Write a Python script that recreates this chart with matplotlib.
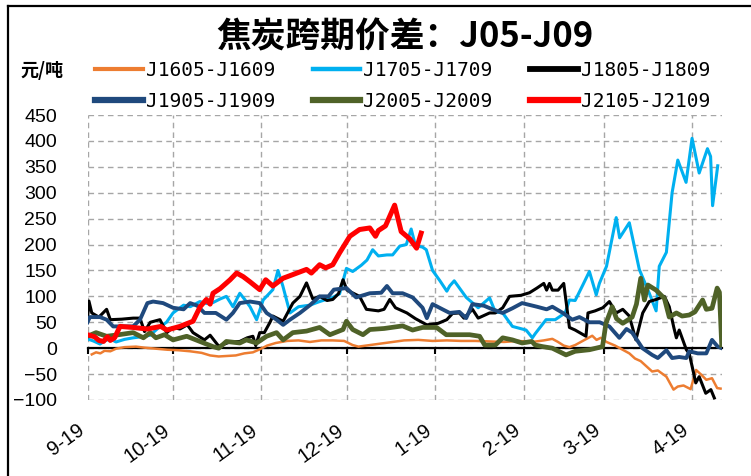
import matplotlib
matplotlib.use("Agg")
import matplotlib.pyplot as plt
from matplotlib.lines import Line2D
import pandas as pd

# season start; x values are days counted from 9-19
BASE_DATE = "2018-09-19"
TICK_DATES = ["2018-09-19", "2018-10-19", "2018-11-19", "2018-12-19",
              "2019-01-19", "2019-02-19", "2019-03-19", "2019-04-19"]
TICK_LABELS = ["9-19", "10-19", "11-19", "12-19", "1-19", "2-19", "3-19", "4-19"]
Y_TICKS = list(range(-100, 451, 50))

DAYS_1605 = [1.5, 3, 4.5, 6, 8, 10, 13, 17, 20, 24, 28, 32, 36, 40, 43, 46, 49, 52, 55, 58,
             60.5, 63, 66, 70, 74, 78, 82, 86, 90, 93, 95, 99, 103, 107, 111, 116, 121, 126,
             131, 136, 141, 146, 151, 156, 160, 163, 165, 167, 169, 171, 173, 175, 177, 178.5,
             180, 182, 185, 188, 190, 192, 194, 196, 198, 200, 203, 205.5, 207, 209, 211.5,
             213.4, 215, 217, 219, 220.8, 222]
VALS_1605 = [-12, -8, -10, -5, -6, -1, 2, 3, 1, -1, -3, -4, -6, -9, -14, -16, -15, -14, -10, -8,
             -2, 5, 10, 14, 15, 12, 15, 15, 14, 6, 3, 6, 9, 12, 15, 16, 14, 15,
             14, 14, 13, 12, 14, 12, 15, 18, 12, 5, 2, 6, 12, 18, 24, 16,
             20, 12, 5, -4, -10, -20, -25, -35, -45, -43, -55, -80, -74, -72, -79,
             -42, -50, -61, -58, -77, -78]

DAYS_1705 = [0, 2, 4.4, 6, 7.9, 10, 13, 16, 19, 22, 25, 27.7, 30, 33.7, 36, 39.4, 42, 44, 46.5,
             48.7, 51, 53.4, 55, 57, 59.3, 61.6, 65, 66.8, 68.5, 71, 74, 78, 81.4, 86, 88.4,
             90.8, 93, 96, 98, 100, 102, 105, 107, 109.5, 111.8, 113.5, 115, 117.5, 118.8, 121,
             123.6, 126, 127, 128.6, 132.8, 137, 141, 143, 145.6, 149, 153.8, 156, 157, 160.8,
             164, 167.5, 169, 171, 173.7, 176, 178.4, 179.5, 182, 185.4, 186.6, 190, 193.5,
             197, 199.4, 200.5, 203, 205, 207, 209.9, 212, 214.5, 217.4, 218.5, 219.2, 221]
VALS_1705 = [18, 14, 8, 14, 18, 12, 17, 20, 22, 25, 40, 50, 68, 83, 80, 90, 86, 88, 95,
             100, 80, 106, 95, 80, 55, 93, 113, 150, 120, 68, 80, 83, 90, 98, 105,
             154, 148, 160, 170, 190, 178, 180, 180, 197, 200, 230, 198, 195, 190, 150,
             130, 110, 120, 130, 98, 78, 97, 70, 68, 42, 35, 20, 28, 55,
             55, 68, 93, 92, 122, 148, 103, 125, 158, 252, 213, 242, 152,
             106, 72, 158, 185, 300, 363, 320, 405, 338, 385, 370, 275, 352]

DAYS_1805 = [0, 0.5, 1.5, 4, 6.7, 8, 12, 16, 18.4, 20, 22, 25.4, 27.8, 30, 32.4, 35, 37, 41, 43,
             46, 50, 53.4, 56, 58, 59, 60.4, 62, 64, 65, 68.6, 72, 74.5, 76.8, 79, 81.4, 84, 86,
             88, 89.6, 91, 95.4, 97.8, 102, 104, 106, 108, 112, 115, 119, 123, 126, 128, 130.4,
             132, 135, 137, 141, 143, 145.6, 148, 152, 155, 157.6, 160, 161, 162, 163, 165, 167,
             169, 171, 174.8, 175.5, 178, 180.7, 183, 185.4, 187.7, 190, 192.3, 194.7, 197,
             199.4, 202.3, 204, 205.6, 206.5, 207.5, 210, 211, 212.3, 213.3, 214.5, 216.8,
             218.6, 219.8]
VALS_1805 = [55, 91, 68, 60, 75, 55, 56, 58, 58, 32, 50, 55, 30, 40, 37, 45, 30, 16, 25,
             4, 12, 13, 20, 23, 5, 30, 30, 50, 62, 52, 87, 100, 126, 95, 100, 92, 94,
             105, 132, 112, 100, 75, 72, 75, 94, 78, 68, 57, 45, 48, 55, 67, 68,
             58, 75, 58, 68, 68, 78, 100, 102, 107, 116, 125, 112, 125, 112, 112, 125,
             40, 35, 23, 68, 72, 78, 90, 68, 75, 62, 16, 68, 90,
             94, 100, 80, 40, 20, 35, -3, -10, -42, -67, -55, -87,
             -80, -96]

DAYS_1905 = [0, 0.8, 4.4, 6.7, 9, 16, 18.4, 21, 23, 26.5, 30, 33.7, 36, 38.5, 41, 45, 48.7, 51,
             53.4, 57, 60.4, 62.8, 66.3, 68.6, 71, 74.5, 78, 81.4, 84.5, 86.4, 90.8, 94.2, 99,
             103, 105, 107, 110.5, 114, 117.5, 119, 121, 124.5, 127, 130.4, 132.8, 135, 139, 142,
             145.6, 149, 152.4, 157.6, 161, 163, 166.7, 170, 172.5, 176, 179.6, 183, 186.5, 189,
             191, 194.6, 198, 200, 203, 205, 207.5, 210, 211, 214, 217, 219, 221, 222.4]
VALS_1905 = [50, 60, 60, 55, 42, 42, 55, 87, 90, 87, 78, 75, 87, 82, 68, 68, 55, 68,
             87, 90, 87, 68, 55, 45, 55, 68, 83, 100, 100, 113, 116, 98, 106,
             107, 120, 106, 106, 98, 78, 58, 85, 75, 68, 70, 58, 85, 82, 75,
             68, 77, 87, 80, 75, 80, 68, 55, 60, 50, 50, 42, 20, 37,
             30, 0, -13, -19, -4, -19, -17, -19, -6, -10, -10, 16, 3, 0]

DAYS_2005 = [0, 3, 6.7, 11, 16, 19.6, 22, 24, 27, 30, 34.8, 39.4, 44, 46, 48.7, 53.4, 55.7, 59.3,
             62.8, 66.3, 68.6, 72, 76.8, 81.4, 85, 89.6, 90.8, 93, 96.6, 99, 104, 110.5, 114,
             117.5, 122.4, 125.8, 134, 137.5, 139.3, 143, 145.6, 149, 152.4, 155.8, 157, 159.6,
             163, 167.8, 171, 176, 180.6, 181.8, 184, 185.5, 187.7, 191, 192.5, 194, 195.3,
             196.5, 199.4, 202.3, 204, 206.5, 208.5, 211, 213, 215.7, 217, 219, 220.8, 221.6,
             222.4]
VALS_2005 = [23, 30, 23, 26, 30, 20, 30, 20, 26, 16, 23, 13, 3, 0, 13, 10, 16, 10,
             23, 30, 16, 30, 33, 40, 26, 36, 52, 36, 26, 36, 38, 43, 35,
             40, 40, 26, 26, 23, 6, 6, 20, 16, 10, 13, 6, 3,
             0, -13, -6, -3, 3, 48, 80, 57, 48, 60, 85, 135, 93,
             122, 112, 96, 60, 68, 62, 64, 70, 93, 75, 77, 116, 108,
             6]

DAYS_2105 = [0, 2.5, 4, 5.6, 7, 8, 9.5, 11.4, 16, 21, 25.7, 27.8, 32.4, 37, 39.5, 41.7, 43, 44,
             46.5, 50, 52.3, 54.6, 57, 60.4, 62.5, 65, 68.6, 72, 76.8, 78.5, 81.4, 83.5, 86,
             88.4, 92, 95.4, 99, 101, 102, 104.5, 107.7, 110, 113, 115.4, 117]
VALS_2105 = [26, 22, 15, 13, 22, 15, 20, 42, 40, 37, 42, 35, 42, 52, 80, 94, 85, 106,
             115, 132, 145, 138, 128, 113, 132, 120, 135, 142, 152, 145, 161, 155, 161,
             184, 216, 229, 232, 216, 227, 236, 276, 225, 211, 193, 222]

SERIES = [
    ("J1605-J1609", DAYS_1605, VALS_1605, "#ED7D31", 1.8, 3.0),
    ("J1705-J1709", DAYS_1705, VALS_1705, "#00B0F0", 2.2, 3.2),
    ("J1805-J1809", DAYS_1805, VALS_1805, "#000000", 2.2, 4.2),
    ("J1905-J1909", DAYS_1905, VALS_1905, "#1F497D", 2.8, 4.5),
    ("J2005-J2009", DAYS_2005, VALS_2005, "#4F6228", 3.4, 4.5),
    ("J2105-J2109", DAYS_2105, VALS_2105, "#FF0000", 3.6, 4.5),
]

W, H = 751, 476
fig = plt.figure(figsize=(W / 100, H / 100), dpi=100)
ax = fig.add_axes([87.5 / W, 1 - 400 / H, (722 - 87.5) / W, (400 - 115) / H])

base = pd.Timestamp(BASE_DATE)
handles = {}
for name, days, vals, color, lw, _ in SERIES:
    x = base + pd.to_timedelta(days, unit="D")
    (ln,) = ax.plot(x, vals, color=color, lw=lw, solid_joinstyle="round", zorder=3)
    handles[name] = ln

ax.set_xlim(base, base + pd.Timedelta(days=222.5))
ax.set_ylim(-100, 450)
ax.set_yticks(Y_TICKS)
ax.set_xticks(pd.to_datetime(TICK_DATES))
ax.set_xticklabels(TICK_LABELS)

ax.grid(True, color="#A6A6A6", lw=1.0, ls=(0, (4, 3)), zorder=0)
for s in ["top", "right", "left"]:
    ax.spines[s].set_visible(False)
ax.spines["bottom"].set_position(("data", 0))
ax.spines["bottom"].set_linewidth(1.6)
ax.spines["bottom"].set_zorder(2)

ax.tick_params(axis="y", length=0, pad=22, labelsize=14)
ax.tick_params(axis="x", direction="out", length=4, width=1.5, pad=48, labelsize=14.5)
for lab in ax.get_yticklabels() + ax.get_xticklabels():
    lab.set_fontfamily("Liberation Sans")
for lab in ax.get_xticklabels():
    lab.set_rotation(36)
    lab.set_ha("right")

order = ["J1605-J1609", "J1905-J1909", "J1705-J1709", "J2005-J2009", "J1805-J1809", "J2105-J2109"]
leg = fig.legend([handles[k] for k in order], order, loc="upper left",
                 bbox_to_anchor=(95 / W, 1 - 61 / H), ncol=3, frameon=False,
                 prop={"family": "DejaVu Sans Mono", "size": 14},
                 handlelength=2.45, handletextpad=0.15, columnspacing=1.95,
                 labelspacing=0.62, borderaxespad=0, borderpad=0)
leg_lw = {name: llw for name, _, _, _, _, llw in SERIES}
for ln, name in zip(leg.get_lines(), order):
    ln.set_linewidth(leg_lw[name])

fig.text(405 / W, 1 - 37 / H, "焦炭跨期价差：J05-J09", ha="center", va="center",
         fontsize=25, fontweight="bold", family=["Noto Sans CJK SC", "DejaVu Sans"])
fig.text(20 / W, 1 - 71 / H, "元/吨", ha="left", va="center",
         fontsize=13, fontweight="bold", family=["Noto Sans CJK SC", "DejaVu Sans"])

# outer frame (top and left edges only, as in the source image)
fig.add_artist(Line2D([8 / W, 1], [1 - 5.5 / H, 1 - 5.5 / H], transform=fig.transFigure,
                      color="black", lw=1.6))
fig.add_artist(Line2D([8 / W, 8 / W], [0, 1 - 5.5 / H], transform=fig.transFigure,
                      color="black", lw=1.6))

fig.savefig("out.png", dpi=100)
